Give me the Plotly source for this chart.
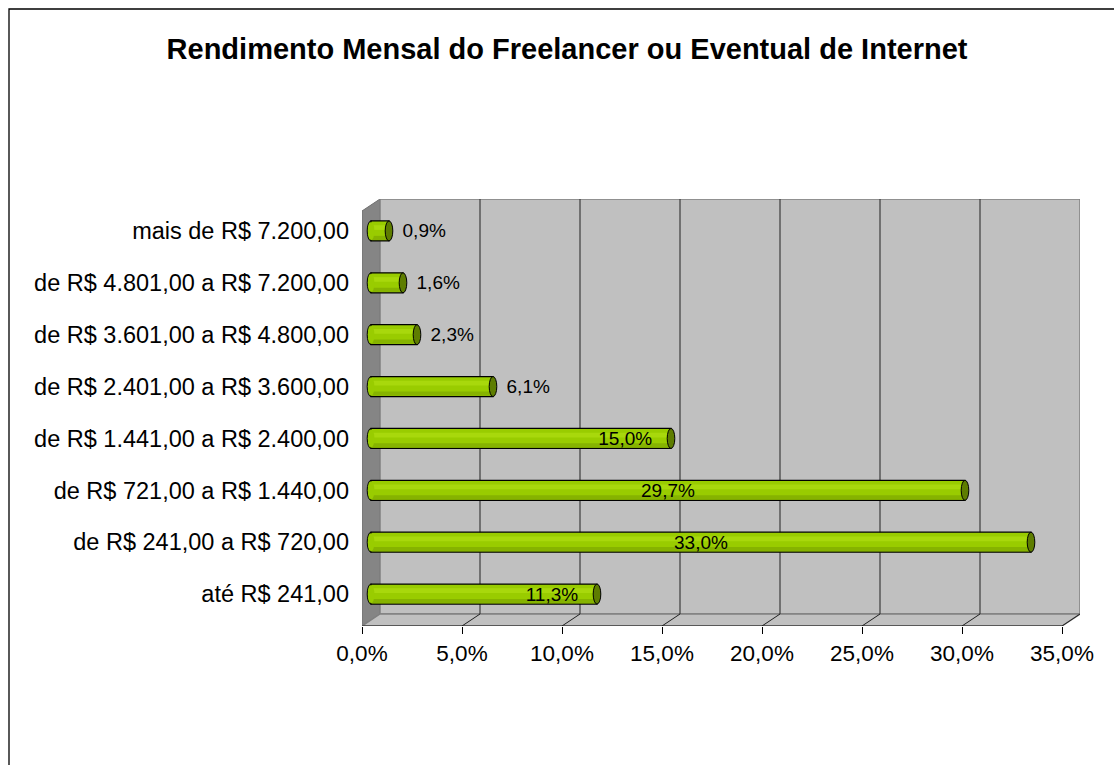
import plotly.graph_objects as go

# ---------------- data ----------------
categories = [
    "até R$ 241,00",
    "de R$ 241,00 a R$ 720,00",
    "de R$ 721,00 a R$ 1.440,00",
    "de R$ 1.441,00 a R$ 2.400,00",
    "de R$ 2.401,00 a R$ 3.600,00",
    "de R$ 3.601,00 a R$ 4.800,00",
    "de R$ 4.801,00 a R$ 7.200,00",
    "mais de R$ 7.200,00",
]
values = [11.3, 33.0, 29.7, 15.0, 6.1, 2.3, 1.6, 0.9]
x_ticks = [0, 5, 10, 15, 20, 25, 30, 35]
x_tick_labels = ["0,0%", "5,0%", "10,0%", "15,0%", "20,0%", "25,0%", "30,0%", "35,0%"]
title_text = "Rendimento Mensal do Freelancer ou Eventual de Internet"

# label placement style per bar ("out" = after bar end, "end"/"middle" = inside)
label_style = ["end", "middle", "middle", "end", "out", "out", "out", "out"]

# ---------------- style / geometry ----------------
FONT = "Liberation Sans, Arial, sans-serif"
W, H = 1114, 765
ML, MR, MT, MB = 362, 34, 199, 139
DX = 0.45            # half depth of the 3D box along x (data units)
X_MAX = x_ticks[-1]
N = len(categories)
pos = list(range(N))
plot_h_px = H - MT - MB
DY = 0.1157          # half depth along y (category units)
BAR_W = 0.386
CAP_DX = 0.19

GREEN = "#99cc00"
GREEN_LIGHT = "#a8d80c"
GREEN_DARK = "#86b300"
CAP = "#5e7d00"
WALL = "#c0c0c0"
SIDE = "#858585"
EDGE = "#808080"
GRID = "#3c3c3c"

ylo, yhi = -0.5, N - 0.5
shapes = []

shapes.append(dict(
    type="path", xref="x", yref="y", layer="below",
    path=f"M {-DX},{ylo-DY} L {DX},{ylo+DY} L {DX},{yhi+DY} L {-DX},{yhi-DY} Z",
    fillcolor=SIDE, line=dict(color="#6e6e6e", width=1)))
shapes.append(dict(
    type="rect", xref="x", yref="y", layer="below",
    x0=DX, x1=X_MAX + DX, y0=ylo + DY, y1=yhi + DY,
    fillcolor=WALL, line=dict(color=EDGE, width=1.5)))
shapes.append(dict(
    type="path", xref="x", yref="y", layer="below",
    path=f"M {-DX},{ylo-DY} L {DX},{ylo+DY} L {X_MAX+DX},{ylo+DY} L {X_MAX-DX},{ylo-DY} Z",
    fillcolor=WALL, line=dict(color=EDGE, width=1.5)))
for t in x_ticks[1:]:
    if t < X_MAX:
        shapes.append(dict(type="line", xref="x", yref="y", layer="below",
                           x0=t + DX, x1=t + DX, y0=ylo + DY, y1=yhi + DY,
                           line=dict(color=GRID, width=1.2)))
    shapes.append(dict(type="line", xref="x", yref="y", layer="below",
                       x0=t - DX, x1=t + DX, y0=ylo - DY, y1=ylo + DY,
                       line=dict(color="#202020", width=1)))
shapes.append(dict(type="line", xref="x", yref="y", layer="below",
                   x0=-DX, x1=X_MAX - DX, y0=ylo - DY, y1=ylo - DY,
                   line=dict(color="#202020", width=1.2)))

for p, v in zip(pos, values):
    shapes.append(dict(type="circle", xref="x", yref="y", layer="below",
                       x0=-CAP_DX, x1=CAP_DX, y0=p - BAR_W / 2, y1=p + BAR_W / 2,
                       fillcolor=GREEN, line=dict(color="black", width=1)))
    shapes.append(dict(type="circle", xref="x", yref="y", layer="above",
                       x0=-CAP_DX + 0.04, x1=CAP_DX - 0.02,
                       y0=p - BAR_W / 2 + 0.02, y1=p + BAR_W / 2 - 0.02,
                       fillcolor=GREEN, line=dict(width=0)))
    shapes.append(dict(type="circle", xref="x", yref="y", layer="above",
                       x0=v - CAP_DX, x1=v + CAP_DX, y0=p - BAR_W / 2, y1=p + BAR_W / 2,
                       fillcolor=CAP, line=dict(color="black", width=1)))

def px_x(px):
    return (px - ML) / (W - ML - MR)

def px_y(py):
    return (H - MB - py) / plot_h_px

shapes.append(dict(type="path", xref="paper", yref="paper", layer="below",
                   path=f"M {px_x(9)},{px_y(H+10)} L {px_x(9)},{px_y(9)} L {px_x(W+10)},{px_y(9)}",
                   line=dict(color="black", width=1.3)))

fig = go.Figure()
fig.add_trace(go.Bar(
    x=values, y=pos, orientation="h", width=BAR_W,
    marker=dict(color=GREEN, line=dict(color="black", width=1.2)),
    hoverinfo="skip", showlegend=False))
fig.add_trace(go.Bar(
    x=values, y=pos, orientation="h", width=0.09, offset=0.02,
    marker=dict(color=GREEN_LIGHT, line=dict(width=0)),
    hoverinfo="skip", showlegend=False))
fig.add_trace(go.Bar(
    x=values, y=pos, orientation="h", width=0.08, offset=-0.175,
    marker=dict(color=GREEN_DARK, line=dict(width=0)),
    hoverinfo="skip", showlegend=False))

label_font = dict(family=FONT, size=19, color="black")
for style, tpos, anchor in [("out", "outside", "end"), ("end", "inside", "end"),
                            ("middle", "inside", "middle")]:
    tmpl = []
    for s in label_style:
        if s != style:
            tmpl.append("")
        elif s == "out":
            tmpl.append("\u00a0\u00a0%{x:.1f}%")
        elif s == "end":
            tmpl.append("%{x:.1f}%\u00a0\u00a0\u00a0")
        else:
            tmpl.append("%{x:.1f}%")
    fig.add_trace(go.Bar(
        x=values, y=pos, orientation="h", width=BAR_W,
        marker=dict(color="rgba(0,0,0,0)", line=dict(width=0)),
        texttemplate=tmpl, textposition=tpos, insidetextanchor=anchor, textangle=0,
        constraintext="none", insidetextfont=label_font, outsidetextfont=label_font,
        cliponaxis=False, hoverinfo="skip", showlegend=False))

fig.update_layout(
    width=W, height=H,
    margin=dict(l=ML, r=MR, t=MT, b=MB, pad=0),
    paper_bgcolor="white", plot_bgcolor="rgba(0,0,0,0)",
    barmode="overlay", separators=",.",
    font=dict(family=FONT, size=23, color="black"),
    title=dict(text=f"<b>{title_text}</b>", x=0.509, xanchor="center",
               y=1 - 49 / H, yanchor="middle", xref="container", yref="container",
               font=dict(family=FONT, size=29, color="black")),
    shapes=shapes,
    xaxis=dict(range=[-DX, X_MAX + DX], visible=False, fixedrange=True),
    xaxis2=dict(range=[0, X_MAX + 2 * DX], overlaying="x", anchor="y", side="bottom",
                tickmode="array", tickvals=x_ticks, ticktext=x_tick_labels,
                ticks="outside", ticklen=7, tickcolor="black", tickwidth=1,
                showgrid=False, zeroline=False, showline=False,
                tickfont=dict(family=FONT, size=22.5, color="black")),
    yaxis=dict(range=[ylo - DY, yhi + DY], tickvals=pos, ticktext=categories,
               showgrid=False, zeroline=False, showline=False, ticks="",
               ticklabelstandoff=12,
               tickfont=dict(family=FONT, size=23.5, color="black")),
)
fig.add_trace(go.Scatter(x=[0], y=[0], xaxis="x2", mode="markers",
                         marker=dict(opacity=0), hoverinfo="skip", showlegend=False))

fig.write_html("out.html", config={"displayModeBar": False},
               post_script="document.body.style.margin='0';document.body.style.overflow='hidden';")
